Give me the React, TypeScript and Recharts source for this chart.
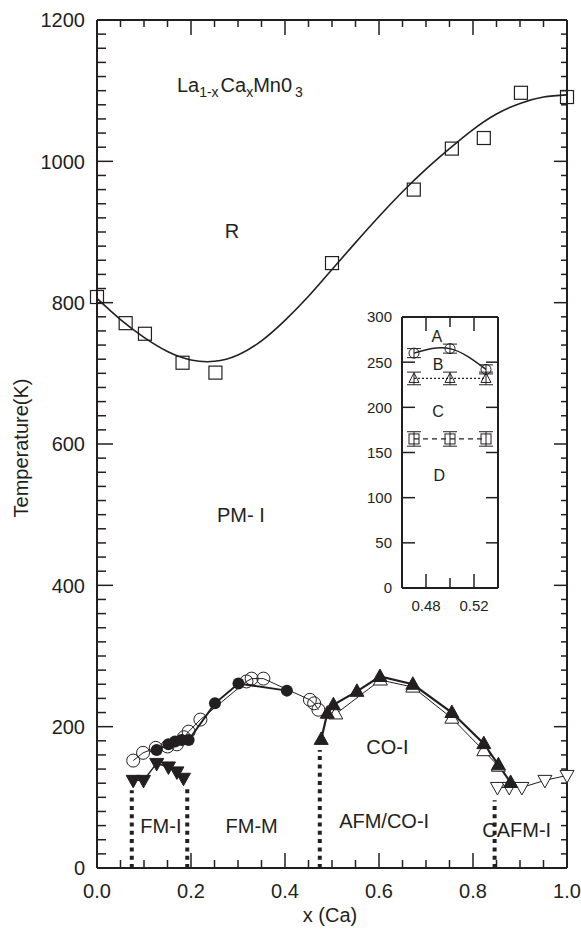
import React from "react";
import {
  ComposedChart,
  Line,
  Scatter,
  XAxis,
  YAxis,
  ReferenceLine,
  ReferenceDot,
  ErrorBar,
} from "recharts";

const FONT = '"Liberation Sans", Arial, Helvetica, sans-serif';
const INK = "#231f20";

// ---- main panel data (x = Ca fraction, t = temperature in K) ----
const rPointX = [0.0, 0.061, 0.102, 0.182, 0.252, 0.5, 0.674, 0.755, 0.823, 0.902, 1.0];
const rPointT = [808, 771, 756, 715, 701, 856, 960, 1018, 1033, 1097, 1091];

const rFitX = [0, 0.05, 0.1, 0.15, 0.2, 0.25, 0.3, 0.35, 0.4, 0.45, 0.5, 0.55, 0.6, 0.65, 0.7, 0.75, 0.8, 0.85, 0.9, 0.95, 1.0];
const rFitT = [806, 776, 751, 731, 719, 717, 726, 746, 775, 809, 847, 885, 922, 957, 989, 1018, 1045, 1067, 1082, 1091, 1094];

const openCircX = [0.077, 0.098, 0.125, 0.15, 0.17, 0.185, 0.195, 0.22, 0.318, 0.329, 0.354, 0.453, 0.462, 0.471];
const openCircT = [152, 163, 170, 172, 175, 185, 193, 210, 264, 268, 268, 238, 233, 224];

const fillCircX = [0.127, 0.152, 0.166, 0.18, 0.195, 0.251, 0.301, 0.404];
const fillCircT = [167, 175, 179, 181, 181, 233, 261, 251];

const fillTriX = [0.477, 0.49, 0.503, 0.553, 0.602, 0.672, 0.755, 0.823, 0.854, 0.88];
const fillTriT = [182, 219, 231, 250, 271, 260, 220, 176, 146, 121];

const openTriX = [0.508, 0.603, 0.672, 0.755, 0.823, 0.854];
const openTriT = [218, 266, 256, 212, 166, 144];

const fmiX = [0.077, 0.099, 0.127, 0.152, 0.17, 0.184];
const fmiT = [124, 124, 148, 143, 136, 127];

const cafmX = [0.852, 0.877, 0.904, 0.953, 1.0];
const cafmT = [114, 114, 114, 124, 131];

const dottedX = [0.074, 0.192, 0.474, 0.846];
const dottedTop = [110, 117, 167, 96];

const phaseLabels = [
  { text: "R", x: 0.287, t: 891 },
  { text: "PM- I", x: 0.306, t: 489 },
  { text: "CO-I", x: 0.618, t: 162 },
  { text: "FM-I", x: 0.136, t: 50 },
  { text: "FM-M", x: 0.329, t: 50 },
  { text: "AFM/CO-I", x: 0.611, t: 56 },
  { text: "CAFM-I", x: 0.893, t: 44 },
];

// ---- inset data ----
const insetX = [0.47, 0.5, 0.53];
const insetCircT = [260, 265, 242];
const insetCircErr = [5, 5, 5];
const insetTriT = [232, 232, 232];
const insetTriErr = [7, 7, 7];
const insetSqT = [165, 165, 165];
const insetSqErr = [8, 8, 8];
const insetLabels = [
  { text: "A", x: 0.489, t: 272 },
  { text: "B", x: 0.49, t: 241 },
  { text: "C", x: 0.49, t: 189 },
  { text: "D", x: 0.491, t: 119 },
];

// ticks
const xMajor = [0, 0.2, 0.4, 0.6, 0.8, 1.0];
const xMinor = Array.from({ length: 21 }, (_, i) => i / 20).filter((v) => !xMajor.some((m) => Math.abs(m - v) < 1e-9));
const yMajor = [0, 200, 400, 600, 800, 1000, 1200];
const yMinor = Array.from({ length: 61 }, (_, i) => i * 20).filter((v) => v % 200 !== 0);
const insetXLabeled = [0.48, 0.52];
const insetXMid = [0.5];
const insetYTicks = [0, 50, 100, 150, 200, 250, 300];

const zip = (xs: number[], ts: number[], es?: number[]) =>
  xs.map((x, i) => ({ x, t: ts[i], e: es ? es[i] : 0 }));

const axisLine = { stroke: INK, strokeWidth: 2 };

// label-only tick renderers
const leftLabel = (fontSize: number, gap: number) => (p: any) => (
  <text x={p.x - gap} y={p.y + fontSize * 0.36} textAnchor="end" fontSize={fontSize} fill={INK} fontFamily={FONT}>
    {p.payload.value}
  </text>
);
const bottomLabel = (fontSize: number, gap: number, digits: number) => (p: any) => (
  <text x={p.x} y={p.y + gap} textAnchor="middle" fontSize={fontSize} fill={INK} fontFamily={FONT}>
    {Number(p.payload.value).toFixed(digits)}
  </text>
);

// frame lines on top / right (mirrored axes take no room)
const frameX = (id: string, domain: number[]) => (
  <XAxis key={id} xAxisId={id} orientation="top" mirror type="number" domain={domain} height={1} tick={false} tickLine={false} axisLine={axisLine} />
);
const frameY = (id: string, domain: number[]) => (
  <YAxis key={id} yAxisId={id} orientation="right" mirror type="number" domain={domain} width={1} tick={false} tickLine={false} axisLine={axisLine} />
);

// inward tick marks drawn with reference lines at the tick values
const ticksX = (key: string, values: number[], bottomLen: number, topLen: number) =>
  values.map((v) => (
    <ReferenceLine
      key={key + v}
      x={v}
      stroke={INK}
      shape={(p: any) => {
        const top = Math.min(p.y1, p.y2);
        const bot = Math.max(p.y1, p.y2);
        return (
          <g>
            <line x1={p.x1} x2={p.x1} y1={bot} y2={bot - bottomLen} stroke={INK} strokeWidth={1.5} />
            <line x1={p.x1} x2={p.x1} y1={top} y2={top + topLen} stroke={INK} strokeWidth={1.5} />
          </g>
        );
      }}
    />
  ));
const ticksY = (key: string, values: number[], leftLen: number, rightLen: number) =>
  values.map((v) => (
    <ReferenceLine
      key={key + v}
      y={v}
      stroke={INK}
      shape={(p: any) => {
        const l = Math.min(p.x1, p.x2);
        const r = Math.max(p.x1, p.x2);
        return (
          <g>
            <line x1={l} x2={l + leftLen} y1={p.y1} y2={p.y1} stroke={INK} strokeWidth={1.5} />
            <line x1={r} x2={r - rightLen} y1={p.y1} y2={p.y1} stroke={INK} strokeWidth={1.5} />
          </g>
        );
      }}
    />
  ));

// marker shapes
const openSquare = (p: any) => (
  <rect x={p.cx - 6.5} y={p.cy - 6.5} width={13} height={13} fill="none" stroke={INK} strokeWidth={1.2} />
);
const openCircle = (p: any) => <circle cx={p.cx} cy={p.cy} r={6.5} fill="none" stroke={INK} strokeWidth={1} />;
const filledCircle = (p: any) => <circle cx={p.cx} cy={p.cy} r={6} fill={INK} />;
const triUp = (fill: string) => (p: any) => (
  <path d={`M${p.cx},${p.cy - 7.5}L${p.cx + 7},${p.cy + 5}L${p.cx - 7},${p.cy + 5}Z`} fill={fill} stroke={INK} strokeWidth={1} />
);
const triDown = (fill: string) => (p: any) => (
  <path d={`M${p.cx},${p.cy + 7.5}L${p.cx + 7},${p.cy - 5}L${p.cx - 7},${p.cy - 5}Z`} fill={fill} stroke={INK} strokeWidth={1} />
);
const smallCircle = (p: any) => <circle cx={p.cx} cy={p.cy} r={5} fill="none" stroke={INK} strokeWidth={1} />;
const smallSquare = (p: any) => (
  <rect x={p.cx - 5} y={p.cy - 5} width={10} height={10} fill="none" stroke={INK} strokeWidth={1} />
);
const smallTri = (p: any) => (
  <path d={`M${p.cx},${p.cy - 5.5}L${p.cx + 5},${p.cy + 4}L${p.cx - 5},${p.cy + 4}Z`} fill="none" stroke={INK} strokeWidth={1} />
);

function MainChart() {
  const xd = [0, 1];
  const yd = [0, 1200];
  return (
    <ComposedChart width={581} height={937} margin={{ top: 20, right: 14, bottom: 0, left: 0 }}>
      <XAxis
        dataKey="x"
        type="number"
        domain={xd}
        ticks={xMajor}
        interval={0}
        height={69}
        tickSize={0}
        tickMargin={0}
        tickLine={false}
        axisLine={axisLine}
        tick={bottomLabel(20, 30, 1)}
        label={(p: any) => (
          <text
            x={p.viewBox.x + p.viewBox.width / 2 - 2}
            y={p.viewBox.y + 54}
            textAnchor="middle"
            fontSize={20}
            fill={INK}
            fontFamily={FONT}
          >
            x (Ca)
          </text>
        )}
      />
      <YAxis
        type="number"
        domain={yd}
        ticks={yMajor}
        interval={0}
        width={97}
        tickSize={0}
        tickMargin={0}
        tickLine={false}
        axisLine={axisLine}
        tick={leftLabel(20, 12)}
        label={(p: any) => (
          <text
            transform={`translate(${p.viewBox.x + 28},448) rotate(-90)`}
            textAnchor="middle"
            fontSize={20}
            fill={INK}
            fontFamily={FONT}
          >
            Temperature(K)
          </text>
        )}
      />
      {frameX("top", xd)}
      {frameY("right", yd)}

      {ticksX("xM", xMajor, 15, 15)}
      {ticksX("xm", xMinor, 8, 7)}
      {ticksY("yM", yMajor, 16, 13)}
      {ticksY("ym", yMinor, 9, 6)}

      {dottedX.map((x, i) => (
        <ReferenceLine
          key={"d" + i}
          segment={[
            { x, y: 0 },
            { x, y: dottedTop[i] },
          ]}
          stroke={INK}
          strokeWidth={4}
          strokeDasharray="4 4.3"
        />
      ))}

      <Line data={zip(rFitX, rFitT)} dataKey="t" type="natural" stroke={INK} strokeWidth={1.6} dot={false} isAnimationActive={false} />
      <Line data={zip(openCircX, openCircT)} dataKey="t" type="linear" stroke={INK} strokeWidth={1} dot={false} isAnimationActive={false} />
      <Line data={zip(openTriX, openTriT)} dataKey="t" type="linear" stroke={INK} strokeWidth={1} dot={false} isAnimationActive={false} />
      <Line data={zip(cafmX, cafmT)} dataKey="t" type="linear" stroke={INK} strokeWidth={1} dot={false} isAnimationActive={false} />
      <Line data={zip(fillCircX, fillCircT)} dataKey="t" type="linear" stroke={INK} strokeWidth={2} dot={false} isAnimationActive={false} />
      <Line data={zip(fillTriX, fillTriT)} dataKey="t" type="linear" stroke={INK} strokeWidth={2.2} dot={false} isAnimationActive={false} />
      <Line data={zip(fmiX, fmiT)} dataKey="t" type="linear" stroke={INK} strokeWidth={1.5} dot={false} isAnimationActive={false} />

      <Scatter data={zip(rPointX, rPointT)} dataKey="t" shape={openSquare} isAnimationActive={false} />
      <Scatter data={zip(openCircX, openCircT)} dataKey="t" shape={openCircle} isAnimationActive={false} />
      <Scatter data={zip(openTriX, openTriT)} dataKey="t" shape={triUp("#fff")} isAnimationActive={false} />
      <Scatter data={zip(cafmX, cafmT)} dataKey="t" shape={triDown("#fff")} isAnimationActive={false} />
      <Scatter data={zip(fillCircX, fillCircT)} dataKey="t" shape={filledCircle} isAnimationActive={false} />
      <Scatter data={zip(fillTriX, fillTriT)} dataKey="t" shape={triUp(INK)} isAnimationActive={false} />
      <Scatter data={zip(fmiX, fmiT)} dataKey="t" shape={triDown(INK)} isAnimationActive={false} />

      {phaseLabels.map((l) => (
        <ReferenceDot
          key={l.text}
          x={l.x}
          y={l.t}
          r={0}
          shape={(p: any) => (
            <text x={p.cx} y={p.cy} textAnchor="middle" fontSize={20} fill={INK} fontFamily={FONT}>
              {l.text}
            </text>
          )}
        />
      ))}
      <ReferenceDot
        x={0.17}
        y={1098}
        r={0}
        shape={(p: any) => (
          <text x={p.cx} y={p.cy} fontSize={20} fill={INK} fontFamily={FONT}>
            La
            <tspan fontSize={14} dy={5}>1-x</tspan>
            <tspan dy={-5} dx={2}>Ca</tspan>
            <tspan fontSize={14} dy={5}>x</tspan>
            <tspan dy={-5}>Mn0</tspan>
            <tspan fontSize={14} dy={5} dx={3}>3</tspan>
          </text>
        )}
      />
    </ComposedChart>
  );
}

function InsetChart() {
  const xd = [0.46, 0.54];
  const yd = [0, 300];
  return (
    <ComposedChart width={146} height={320} margin={{ top: 17, right: 6, bottom: 0, left: 0 }}>
      <XAxis
        dataKey="x"
        type="number"
        domain={xd}
        ticks={insetXLabeled}
        interval={0}
        height={32}
        tickSize={0}
        tickMargin={0}
        tickLine={false}
        axisLine={axisLine}
        tick={bottomLabel(15, 23, 2)}
      />
      <YAxis
        type="number"
        domain={yd}
        ticks={insetYTicks}
        interval={0}
        width={44}
        tickSize={0}
        tickMargin={0}
        tickLine={false}
        axisLine={axisLine}
        tick={leftLabel(15, 10)}
      />
      {frameX("top", xd)}
      {frameY("right", yd)}

      {ticksX("ixM", insetXLabeled, 14, 14)}
      {ticksX("ixm", insetXMid, 10, 10)}
      {ticksY("iy", insetYTicks, 13, 12)}

      <Line data={zip(insetX, insetCircT)} dataKey="t" type="natural" stroke={INK} strokeWidth={1.5} dot={false} isAnimationActive={false} />
      <Line data={zip(insetX, insetTriT)} dataKey="t" type="linear" stroke={INK} strokeWidth={1.2} strokeDasharray="2 2" dot={false} isAnimationActive={false} />
      <Line data={zip(insetX, insetSqT)} dataKey="t" type="linear" stroke={INK} strokeWidth={1.2} strokeDasharray="5 4" dot={false} isAnimationActive={false} />

      <Scatter data={zip(insetX, insetCircT, insetCircErr)} dataKey="t" shape={smallCircle} isAnimationActive={false}>
        <ErrorBar dataKey="e" direction="y" width={7} stroke={INK} strokeWidth={1} />
      </Scatter>
      <Scatter data={zip(insetX, insetTriT, insetTriErr)} dataKey="t" shape={smallTri} isAnimationActive={false}>
        <ErrorBar dataKey="e" direction="y" width={7} stroke={INK} strokeWidth={1} />
      </Scatter>
      <Scatter data={zip(insetX, insetSqT, insetSqErr)} dataKey="t" shape={smallSquare} isAnimationActive={false}>
        <ErrorBar dataKey="e" direction="y" width={7} stroke={INK} strokeWidth={1} />
      </Scatter>

      {insetLabels.map((l) => (
        <ReferenceDot
          key={l.text}
          x={l.x}
          y={l.t}
          r={0}
          shape={(p: any) => (
            <text x={p.cx} y={p.cy} textAnchor="middle" fontSize={16} fill={INK} fontFamily={FONT}>
              {l.text}
            </text>
          )}
        />
      ))}
    </ComposedChart>
  );
}

export default function App() {
  return (
    <div style={{ position: "absolute", left: 0, top: 0, width: 581, height: 937, background: "#fff", fontFamily: FONT }}>
      <div style={{ position: "absolute", left: 0, top: 0 }}>
        <MainChart />
      </div>
      <div style={{ position: "absolute", left: 358, top: 300 }}>
        <InsetChart />
      </div>
    </div>
  );
}
